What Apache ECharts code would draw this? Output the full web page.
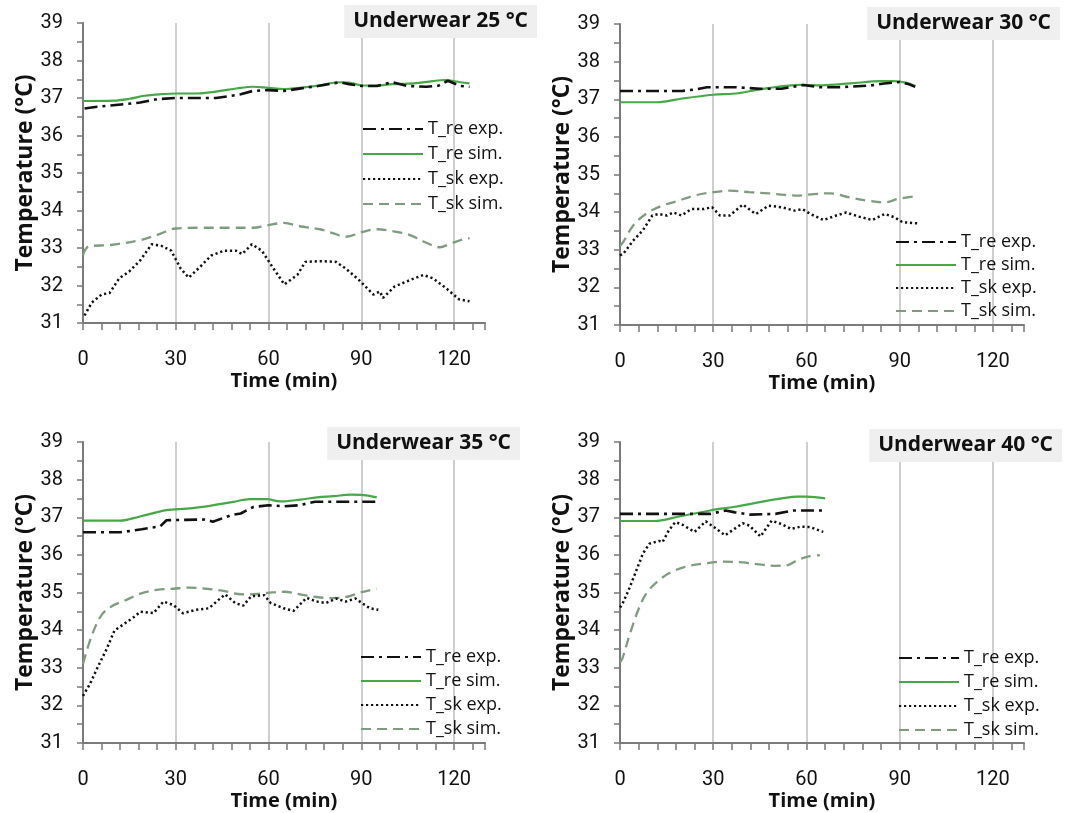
<!DOCTYPE html>
<html>
<head>
<meta charset="utf-8">
<script src="https://cdn.jsdelivr.net/npm/echarts@6/dist/echarts.min.js"></script>
<style>
html,body{margin:0;padding:0;background:#fff;}
#chart{width:1071px;height:813px;}
</style>
</head>
<body>
<div id="chart"></div>
<script>
// ---------- tick labels / names ----------
const panelTitles = ['Underwear 25 °C', 'Underwear 30 °C', 'Underwear 35 °C', 'Underwear 40 °C'];
const seriesNames = ['T_re exp.', 'T_re sim.', 'T_sk exp.', 'T_sk sim.'];
const xTicks = [0, 30, 60, 90, 120];
const yTicks = [31, 32, 33, 34, 35, 36, 37, 38, 39];

// ---------- Underwear 25 °C : [time (min), temperature (°C)] ----------
const reExp25 = [[0.5,36.72],[4,36.76],[9,36.80],[14,36.84],[18.5,36.88],[24,36.97],[30,37.0],[37,37.0],[43,37.0],[48,37.06],[51,37.1],[55,37.19],[60,37.21],[65,37.19],[70,37.25],[76,37.32],[83,37.42],[86,37.37],[90,37.32],[95,37.32],[100,37.42],[105,37.32],[111,37.30],[115,37.33],[118,37.46],[122,37.32],[125,37.30]];
const reSim25 = [[0,36.92],[10,36.93],[15,36.98],[20,37.06],[25,37.10],[30,37.12],[37,37.12],[43,37.17],[50,37.26],[55,37.30],[60,37.27],[65,37.24],[70,37.27],[76,37.33],[83,37.42],[86,37.41],[90,37.34],[95,37.33],[100,37.37],[107,37.39],[113,37.45],[117,37.48],[122,37.42],[125,37.39]];
const skExp25 = [[0.5,31.2],[2.8,31.54],[6,31.76],[8.6,31.8],[11.7,32.19],[14.9,32.37],[18.5,32.67],[22.2,33.1],[25.3,33.06],[28.5,32.93],[31.6,32.45],[34.2,32.21],[37.9,32.5],[41.5,32.8],[45.7,32.93],[49.4,32.93],[51.5,32.84],[54.6,33.1],[57.8,32.93],[60.9,32.54],[65.1,32.03],[69.3,32.28],[71.9,32.63],[76.6,32.65],[81.8,32.63],[85,32.45],[89.2,32.15],[93.9,31.76],[96,31.84],[97,31.67],[100.7,31.97],[105.9,32.15],[110.1,32.28],[113.2,32.19],[117.4,31.93],[121.6,31.63],[125,31.58]];
const skSim25 = [[0,32.81],[1.8,33.04],[8.8,33.08],[18.5,33.21],[24,33.35],[30,33.52],[38,33.54],[48,33.54],[55,33.54],[60,33.61],[65,33.67],[70,33.58],[76.6,33.5],[81,33.39],[85,33.3],[90.5,33.43],[95,33.5],[100,33.45],[105.6,33.35],[111,33.14],[115.3,33.02],[119,33.12],[122.8,33.23],[125,33.26]];

// ---------- Underwear 30 °C ----------
const reExp30 = [[0,37.22],[10,37.22],[20,37.22],[25,37.27],[28,37.32],[37,37.32],[45,37.28],[52,37.28],[59,37.38],[64,37.32],[70,37.32],[75,37.34],[80,37.36],[85,37.42],[90,37.46],[93,37.4],[95,37.33]];
const reSim30 = [[0,36.92],[12,36.92],[20,37.02],[30,37.12],[38,37.16],[47,37.29],[58,37.38],[65,37.37],[74,37.42],[84,37.48],[88,37.48],[92,37.44],[95,37.35]];
const skExp30 = [[0,32.85],[1,32.89],[4.2,33.24],[7.3,33.51],[10.4,33.91],[12.5,33.95],[15.1,33.91],[17.2,33.99],[19.8,33.91],[22.9,34.08],[27,34.08],[29.6,34.13],[32.2,33.91],[35.3,33.91],[39.5,34.2],[43.7,33.95],[47.8,34.17],[52,34.13],[56.1,34.04],[58.7,34.08],[61.3,33.95],[65.5,33.79],[69.6,33.91],[72.8,33.99],[76.9,33.88],[81.1,33.79],[85.2,33.95],[88.4,33.86],[91,33.73],[96,33.7]];
const skSim30 = [[0,33.1],[1,33.2],[4.2,33.64],[8.3,33.95],[13.5,34.17],[18.7,34.3],[23.9,34.44],[30,34.53],[35.3,34.57],[41.6,34.53],[47.8,34.5],[53,34.46],[57.2,34.44],[62.4,34.48],[67.6,34.5],[73.8,34.39],[80,34.3],[85.2,34.26],[89.4,34.35],[95,34.42]];

// ---------- Underwear 35 °C ----------
const reExp35 = [[0,36.6],[6,36.6],[12,36.6],[19,36.68],[25,36.76],[27,36.92],[33,36.93],[40,36.94],[42,36.88],[48,37.06],[51,37.1],[55,37.27],[60,37.32],[65,37.29],[70,37.32],[75,37.41],[81,37.41],[88,37.41],[95,37.41]];
const reSim35 = [[0,36.91],[12,36.91],[18.4,37.02],[27,37.19],[33.5,37.23],[40,37.29],[48.6,37.41],[54,37.48],[59.5,37.48],[63.8,37.42],[70.3,37.47],[75.7,37.53],[81,37.56],[86.5,37.6],[90.8,37.59],[95,37.53]];
const skExp35 = [[0,32.25],[2.3,32.58],[4.9,33.04],[7.6,33.49],[10.2,33.99],[13.4,34.17],[16.5,34.35],[18.6,34.49],[22.8,34.45],[26,34.76],[29.2,34.67],[32.3,34.45],[36.5,34.54],[40.7,34.58],[43.9,34.81],[46,34.95],[49.2,34.72],[51.8,34.65],[54.4,34.9],[58.6,34.93],[60.7,34.72],[64.9,34.58],[68.1,34.51],[72.3,34.86],[75.5,34.76],[78.6,34.72],[81.8,34.84],[85,34.76],[88.1,34.84],[90.2,34.72],[92.8,34.58],[95.5,34.54]];
const skSim35 = [[0,33.1],[2.8,33.85],[6,34.4],[9.2,34.63],[13.4,34.78],[18.6,34.97],[23.9,35.07],[29.2,35.1],[34.4,35.13],[39.7,35.1],[45,35.05],[50.2,34.96],[54.4,34.95],[59.7,34.99],[65,35.02],[70.2,34.95],[75.5,34.88],[80.7,34.85],[86,34.9],[89.2,34.99],[92.3,35.05],[95,35.1]];

// ---------- Underwear 40 °C ----------
const reExp40 = [[0,37.09],[10,37.09],[20,37.09],[29,37.09],[34,37.18],[37,37.13],[42,37.07],[50,37.09],[56,37.18],[65,37.18]];
const reSim40 = [[0,36.9],[11,36.9],[19,37.02],[29,37.18],[37,37.28],[45,37.4],[52,37.5],[57,37.55],[60,37.55],[66,37.5]];
const skExp40 = [[0,34.6],[0.7,34.68],[2.8,35.07],[4.9,35.51],[7.4,36.04],[9.5,36.3],[12.6,36.37],[13.7,36.34],[15.7,36.65],[17.8,36.87],[19.9,36.81],[24,36.61],[27.6,36.89],[30.2,36.74],[33.8,36.52],[39.5,36.84],[41.6,36.78],[45.2,36.49],[48.8,36.91],[51.9,36.82],[55,36.69],[58.1,36.75],[61.2,36.74],[65.4,36.61]];
const skSim40 = [[0,33.15],[0.7,33.23],[3.3,33.93],[5.9,34.54],[8.5,34.98],[12.6,35.33],[16.2,35.53],[20.9,35.68],[27.1,35.77],[33.3,35.82],[39.5,35.8],[44.7,35.75],[49.8,35.71],[54,35.73],[57.1,35.86],[60.2,35.95],[64.3,35.99]];

const panelData = [
  [reExp25, reSim25, skExp25, skSim25],
  [reExp30, reSim30, skExp30, skSim30],
  [reExp35, reSim35, skExp35, skSim35],
  [reExp40, reSim40, skExp40, skSim40]
];

// ---------- layout ----------
const grids = [
  {left: 83, top: 23, width: 402, height: 300},
  {left: 620, top: 24, width: 404, height: 301},
  {left: 83, top: 442, width: 402, height: 301},
  {left: 620, top: 442, width: 404, height: 301}
];
const titlePos = [
  {right: 534, top: 5},
  {right: 11, top: 7},
  {right: 551, top: 427},
  {right: 9, top: 429}
];
const legendPos = [
  {left: 362, top: 120, itemGap: 7},
  {left: 895, top: 233, itemGap: 5},
  {left: 360, top: 648, itemGap: 6},
  {left: 898, top: 649, itemGap: 6}
];

const FONT = 'Roboto, "Open Sans", sans-serif';
const BOLD = '"Open Sans", sans-serif';
const styles = [
  {color: '#111111', width: 2.6, type: [13, 5, 3, 5]},
  {color: '#46a846', width: 2.2, type: 'solid'},
  {color: '#111111', width: 2.5, type: [2.2, 2.8]},
  {color: '#7f9c80', width: 2.3, type: [10, 6]}
];

const option = {
  backgroundColor: '#ffffff',
  animation: false,
  title: panelTitles.map((t, i) => Object.assign({
    text: t,
    backgroundColor: '#efefef',
    padding: [6, 9, 6, 9],
    textStyle: {fontFamily: BOLD, fontWeight: 'bold', fontSize: 21, color: '#111'}
  }, titlePos[i])),
  legend: legendPos.map((p, i) => ({
    left: p.left, top: p.top, orient: 'vertical', itemGap: p.itemGap,
    padding: 0,
    itemWidth: 60, itemHeight: 14,
    data: seriesNames,
    itemStyle: {color: 'rgba(0,0,0,0)', borderColor: 'rgba(0,0,0,0)', borderWidth: 0},
    textStyle: {fontFamily: BOLD, fontSize: 18, color: '#111'},
    selectedMode: false
  })),
  grid: grids,
  xAxis: grids.map((g, i) => ({
    type: 'value', gridIndex: i, min: 0, max: 130, interval: 30,
    name: 'Time (min)', nameLocation: 'middle', nameGap: 42,
    nameTextStyle: {fontFamily: BOLD, fontWeight: 'bold', fontSize: 20, color: '#111'},
    axisLine: {show: true, lineStyle: {color: '#7a7a7a', width: 2}},
    axisTick: {show: true, inside: false, length: 7, lineStyle: {color: '#7a7a7a', width: 1.5}},
    minorTick: {show: true, splitNumber: 5, length: 7, lineStyle: {color: '#7a7a7a', width: 1.5}},
    axisLabel: {fontFamily: FONT, fontSize: 20, color: '#111', margin: 27, showMaxLabel: false,
      formatter: v => (xTicks.indexOf(v) >= 0 ? String(v) : '')},
    splitLine: {show: true, showMinLine: false, showMaxLine: false, lineStyle: {color: '#cacaca', width: 1.8}},
    minorSplitLine: {show: false}
  })),
  yAxis: grids.map((g, i) => ({
    type: 'value', gridIndex: i, min: yTicks[0], max: yTicks[yTicks.length - 1], interval: 1,
    name: 'Temperature (°C)', nameLocation: 'middle', nameGap: 46, nameRotate: 90,
    nameTextStyle: {fontFamily: BOLD, fontWeight: 'bold', fontSize: 23, color: '#111'},
    axisLine: {show: true, lineStyle: {color: '#7a7a7a', width: 2}},
    axisTick: {show: true, inside: false, length: 6, lineStyle: {color: '#7a7a7a', width: 1.5}},
    minorTick: {show: true, splitNumber: 2, length: 6, lineStyle: {color: '#7a7a7a', width: 1.5}},
    axisLabel: {fontFamily: FONT, fontSize: 20, color: '#111', margin: 20},
    splitLine: {show: false}
  })),
  series: []
};

panelData.forEach((arr, p) => {
  arr.forEach((d, k) => {
    option.series.push({
      type: 'line', name: seriesNames[k], xAxisIndex: p, yAxisIndex: p,
      data: d, symbol: 'none', showSymbol: false,
      smooth: (k === 1 || k === 3) ? 0.35 : false,
      lineStyle: {color: styles[k].color, width: styles[k].width, type: styles[k].type},
      itemStyle: {color: styles[k].color},
      z: 5 - k
    });
  });
});

const chart = echarts.init(document.getElementById('chart'), null, {renderer: 'canvas'});
chart.setOption(option);
</script>
</body>
</html>
